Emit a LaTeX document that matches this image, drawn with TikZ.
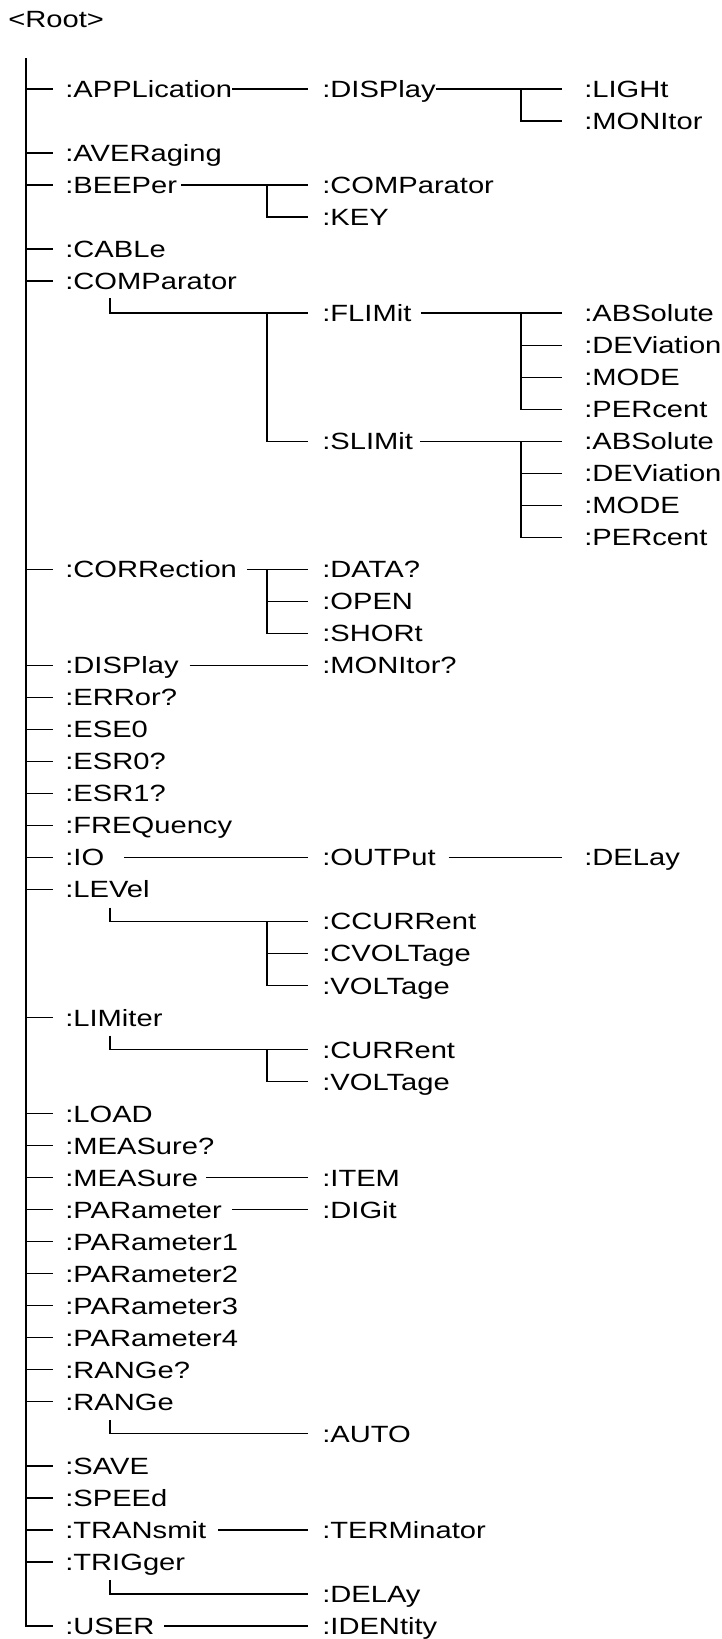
\documentclass[tikz,border=0pt]{standalone}
\usepackage{fontspec}
\setmainfont{Liberation Sans}[FakeStretch=1.24]
\begin{document}
\begin{tikzpicture}[x=1pt,y=-1pt,
  lbl/.style={anchor=west,inner sep=0pt,outer sep=0pt,text height=16.8pt,text depth=0pt,font=\fontsize{23.5pt}{28pt}\selectfont},
  ln/.style={line width=1.3pt,line cap=butt},
  trunkln/.style={line width=2pt}]
\useasboundingbox (0,0) rectangle (722,1639);
\coordinate (trunk) at (26,58);
\coordinate (busL) at (110,0);
\coordinate (bus2) at (267,0);
\coordinate (bus3) at (521,0);
\node[lbl,anchor=base west] (root) at (8.3,27) {<Root>};
% level 1
\node[lbl] (appl) at (65.3,89) {:APPLication};
\node[lbl] (aver) at (65.3,153.0) {:AVERaging};
\node[lbl] (beep) at (65.3,185.1) {:BEEPer};
\node[lbl] (cable) at (65.3,249.1) {:CABLe};
\node[lbl] (comp) at (65.3,281.1) {:COMParator};
\node[lbl] (corr) at (65.3,569.3) {:CORRection};
\node[lbl] (disp) at (65.3,665.4) {:DISPlay};
\node[lbl] (err) at (65.3,697.4) {:ERRor?};
\node[lbl] (ese) at (65.3,729.4) {:ESE0};
\node[lbl] (esrz) at (65.3,761.4) {:ESR0?};
\node[lbl] (esro) at (65.3,793.4) {:ESR1?};
\node[lbl] (freq) at (65.3,825.5) {:FREQuency};
\node[lbl] (io) at (65.3,857.5) {:IO};
\node[lbl] (lev) at (65.3,889.5) {:LEVel};
\node[lbl] (lim) at (65.3,1017.6) {:LIMiter};
\node[lbl] (load) at (65.3,1113.6) {:LOAD};
\node[lbl] (measq) at (65.3,1145.7) {:MEASure?};
\node[lbl] (meas) at (65.3,1177.7) {:MEASure};
\node[lbl] (par) at (65.3,1209.7) {:PARameter};
\node[lbl] (para) at (65.3,1241.7) {:PARameter1};
\node[lbl] (parb) at (65.3,1273.7) {:PARameter2};
\node[lbl] (parc) at (65.3,1305.8) {:PARameter3};
\node[lbl] (pard) at (65.3,1337.8) {:PARameter4};
\node[lbl] (rangeq) at (65.3,1369.8) {:RANGe?};
\node[lbl] (range) at (65.3,1401.8) {:RANGe};
\node[lbl] (save) at (65.3,1465.9) {:SAVE};
\node[lbl] (speed) at (65.3,1497.9) {:SPEEd};
\node[lbl] (trans) at (65.3,1529.9) {:TRANsmit};
\node[lbl] (trig) at (65.3,1561.9) {:TRIGger};
\node[lbl] (user) at (65.3,1626.0) {:USER};
% level 2
\node[lbl] (adisp) at (322.3,89) {:DISPlay};
\node[lbl] (bcomp) at (322.3,185.1) {:COMParator};
\node[lbl] (bkey) at (322.3,217.1) {:KEY};
\node[lbl] (flim) at (322.3,313.1) {:FLIMit};
\node[lbl] (slim) at (322.3,441.2) {:SLIMit};
\node[lbl] (cdata) at (322.3,569.3) {:DATA?};
\node[lbl] (copen) at (322.3,601.3) {:OPEN};
\node[lbl] (cshort) at (322.3,633.3) {:SHORt};
\node[lbl] (dmon) at (322.3,665.4) {:MONItor?};
\node[lbl] (iout) at (322.3,857.5) {:OUTPut};
\node[lbl] (lccur) at (322.3,921.5) {:CCURRent};
\node[lbl] (lcvolt) at (322.3,953.5) {:CVOLTage};
\node[lbl] (lvolt) at (322.3,985.6) {:VOLTage};
\node[lbl] (mcur) at (322.3,1049.6) {:CURRent};
\node[lbl] (mvolt) at (322.3,1081.6) {:VOLTage};
\node[lbl] (mitem) at (322.3,1177.7) {:ITEM};
\node[lbl] (pdig) at (322.3,1209.7) {:DIGit};
\node[lbl] (rauto) at (322.3,1433.8) {:AUTO};
\node[lbl] (tterm) at (322.3,1529.9) {:TERMinator};
\node[lbl] (tdel) at (322.3,1593.9) {:DELAy};
\node[lbl] (uid) at (322.3,1626.0) {:IDENtity};
% level 3
\node[lbl] (dlight) at (584.3,89) {:LIGHt};
\node[lbl] (dmonitor) at (584.3,121.0) {:MONItor};
\node[lbl] (fabs) at (584.3,313.1) {:ABSolute};
\node[lbl] (fdev) at (584.3,345.2) {:DEViation};
\node[lbl] (fmode) at (584.3,377.2) {:MODE};
\node[lbl] (fper) at (584.3,409.2) {:PERcent};
\node[lbl] (sabs) at (584.3,441.2) {:ABSolute};
\node[lbl] (sdev) at (584.3,473.2) {:DEViation};
\node[lbl] (smode) at (584.3,505.3) {:MODE};
\node[lbl] (sper) at (584.3,537.3) {:PERcent};
\node[lbl] (odel) at (584.3,857.5) {:DELay};
% trunk
\draw[trunkln] (trunk) -- (trunk |- user.west);
\foreach \n in {appl,aver,beep,cable,comp,corr,disp,err,ese,esrz,esro,freq,io,lev,lim,load,measq,meas,par,para,parb,parc,pard,rangeq,range,save,speed,trans,trig,user}
  \draw[ln] ([xshift=-1pt]trunk |- \n.west) -- ([xshift=-12.3pt]\n.west);
% APPLication
\draw[ln] (appl.east) -- ([xshift=-14.3pt]adisp.west);
\draw[ln] (adisp.east) -- ([xshift=-22.3pt]dlight.west);
\draw[ln] (bus3 |- dlight.west) |- ([xshift=-22.3pt]dmonitor.west);
% BEEPer
\draw[ln] ([xshift=4pt]beep.east) -- ([xshift=-14.3pt]bcomp.west);
\draw[ln] (bus2 |- bcomp.west) |- ([xshift=-14.3pt]bkey.west);
% COMParator
\draw[ln] ([yshift=-17pt]busL |- comp.west) |- ([xshift=-14.3pt]flim.west);
\draw[ln] (bus2 |- flim.west) |- ([xshift=-14.3pt]slim.west);
\draw[ln] ([xshift=9.5pt]flim.east) -- ([xshift=-22.3pt]fabs.west);
\draw[ln] (bus3 |- fabs.west) |- ([xshift=-22.3pt]fper.west);
\draw[ln] (bus3 |- fdev.west) -- ([xshift=-22.3pt]fdev.west);
\draw[ln] (bus3 |- fmode.west) -- ([xshift=-22.3pt]fmode.west);
\draw[ln] ([xshift=7pt]slim.east) -- ([xshift=-22.3pt]sabs.west);
\draw[ln] (bus3 |- sabs.west) |- ([xshift=-22.3pt]sper.west);
\draw[ln] (bus3 |- sdev.west) -- ([xshift=-22.3pt]sdev.west);
\draw[ln] (bus3 |- smode.west) -- ([xshift=-22.3pt]smode.west);
% CORRection
\draw[ln] ([xshift=10pt]corr.east) -- ([xshift=-14.3pt]cdata.west);
\draw[ln] (bus2 |- cdata.west) |- ([xshift=-14.3pt]cshort.west);
\draw[ln] (bus2 |- copen.west) -- ([xshift=-14.3pt]copen.west);
% DISPlay
\draw[ln] ([xshift=11pt]disp.east) -- ([xshift=-14.3pt]dmon.west);
% IO
\draw[ln] ([xshift=20pt]io.east) -- ([xshift=-14.3pt]iout.west);
\draw[ln] ([xshift=13pt]iout.east) -- ([xshift=-22.3pt]odel.west);
% LEVel
\draw[ln] ([yshift=-18pt]busL |- lev.west) |- ([xshift=-14.3pt]lccur.west);
\draw[ln] (bus2 |- lccur.west) |- ([xshift=-14.3pt]lvolt.west);
\draw[ln] (bus2 |- lcvolt.west) -- ([xshift=-14.3pt]lcvolt.west);
% LIMiter
\draw[ln] ([yshift=-18pt]busL |- lim.west) |- ([xshift=-14.3pt]mcur.west);
\draw[ln] (bus2 |- mcur.west) |- ([xshift=-14.3pt]mvolt.west);
% MEASure, PARameter
\draw[ln] ([xshift=8pt]meas.east) -- ([xshift=-14.3pt]mitem.west);
\draw[ln] ([xshift=10pt]par.east) -- ([xshift=-14.3pt]pdig.west);
% RANGe
\draw[ln] ([yshift=-18pt]busL |- range.west) |- ([xshift=-14.3pt]rauto.west);
% TRANsmit
\draw[ln] ([xshift=12pt]trans.east) -- ([xshift=-14.3pt]tterm.west);
% TRIGger
\draw[ln] ([yshift=-18pt]busL |- trig.west) |- ([xshift=-14.3pt]tdel.west);
% USER
\draw[ln] ([xshift=9.5pt]user.east) -- ([xshift=-14.3pt]uid.west);
\end{tikzpicture}
\end{document}
